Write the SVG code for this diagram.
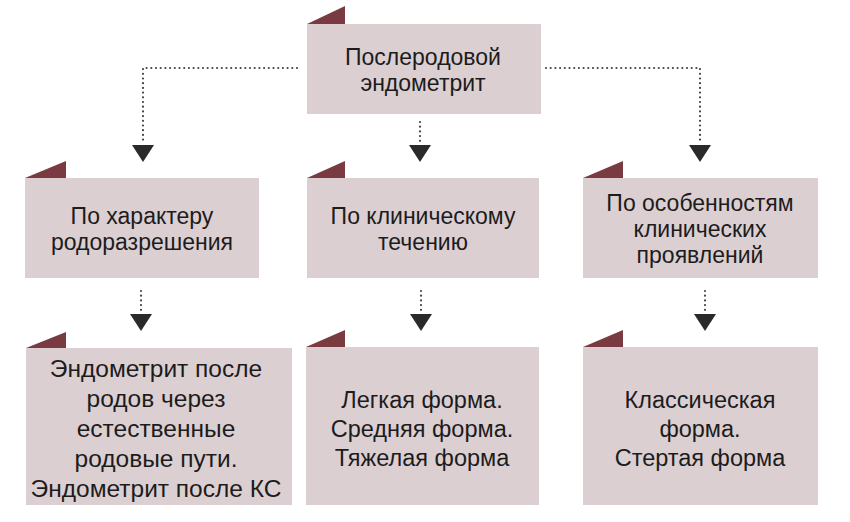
<svg xmlns="http://www.w3.org/2000/svg" width="850" height="522" viewBox="0 0 850 522">
<style>
.box{fill:#dccfd2}
.tab{fill:#7a3a41}
.t{font-family:"Liberation Sans",Arial,sans-serif;font-size:23px;fill:#1c1c1c;text-anchor:middle}
.t3{font-size:23.5px}
.t4{font-size:24.5px}
.dot{fill:none;stroke:#444;stroke-width:2.2;stroke-linecap:round;stroke-dasharray:0 4.7}
.arr{fill:#2a2a2a}
</style>
<rect width="850" height="522" fill="#ffffff"/>
<g id="connectors">
<path class="dot" d="M297 68 H143 V142"/>
<polygon class="arr" points="132,145 154,145 143,162"/>
<path class="dot" d="M420 122 V142"/>
<polygon class="arr" points="409,145 431,145 420,162"/>
<path class="dot" d="M546 68 H700 V142"/>
<polygon class="arr" points="689,145 711,145 700,162"/>
<path class="dot" d="M141 291 V311"/>
<polygon class="arr" points="130,314 152,314 141,331"/>
<path class="dot" d="M421 291 V311"/>
<polygon class="arr" points="410,314 432,314 421,331"/>
<path class="dot" d="M705 291 V311"/>
<polygon class="arr" points="694,314 716,314 705,331"/>
</g>
<g id="n-root">
<polygon class="tab" points="307,24 345,6 345,24"/>
<rect class="box" x="307" y="24" width="234" height="90"/>
<text class="t" x="423" y="65">Послеродовой</text>
<text class="t" x="423" y="91">эндометрит</text>
</g>
<g id="n-delivery">
<polygon class="tab" points="25,178 66,161 66,178"/>
<rect class="box" x="25" y="178" width="234" height="100"/>
<text class="t" x="142" y="224">По характеру</text>
<text class="t" x="142" y="250">родоразрешения</text>
</g>
<g id="n-course">
<polygon class="tab" points="307,178 345,161 345,178"/>
<rect class="box" x="307" y="178" width="232" height="100"/>
<text class="t" x="423" y="224">По клиническому</text>
<text class="t" x="423" y="250">течению</text>
</g>
<g id="n-features">
<polygon class="tab" points="583,178 623,161 623,178"/>
<rect class="box" x="583" y="178" width="235" height="100"/>
<text class="t" x="700" y="211">По особенностям</text>
<text class="t" x="700" y="237">клинических</text>
<text class="t" x="700" y="263">проявлений</text>
</g>
<g id="n-delivery-types">
<polygon class="tab" points="26,348 66,332 66,348"/>
<rect class="box" x="26" y="348" width="266" height="157"/>
<text class="t t4" x="156" y="377">Эндометрит после</text>
<text class="t t4" x="156" y="407">родов через</text>
<text class="t t4" x="156" y="437">естественные</text>
<text class="t t4" x="156" y="467">родовые пути.</text>
<text class="t t4" x="156" y="497">Эндометрит после КС</text>
</g>
<g id="n-course-types">
<polygon class="tab" points="306,347 345,330 345,347"/>
<rect class="box" x="306" y="347" width="233" height="158"/>
<text class="t t3" x="422" y="408">Легкая форма.</text>
<text class="t t3" x="422" y="437">Средняя форма.</text>
<text class="t t3" x="422" y="466">Тяжелая форма</text>
</g>
<g id="n-feature-types">
<polygon class="tab" points="583,347 623,330 623,347"/>
<rect class="box" x="583" y="347" width="235" height="158"/>
<text class="t t3" x="700" y="408">Классическая</text>
<text class="t t3" x="700" y="437">форма.</text>
<text class="t t3" x="700" y="466">Стертая форма</text>
</g>
</svg>
